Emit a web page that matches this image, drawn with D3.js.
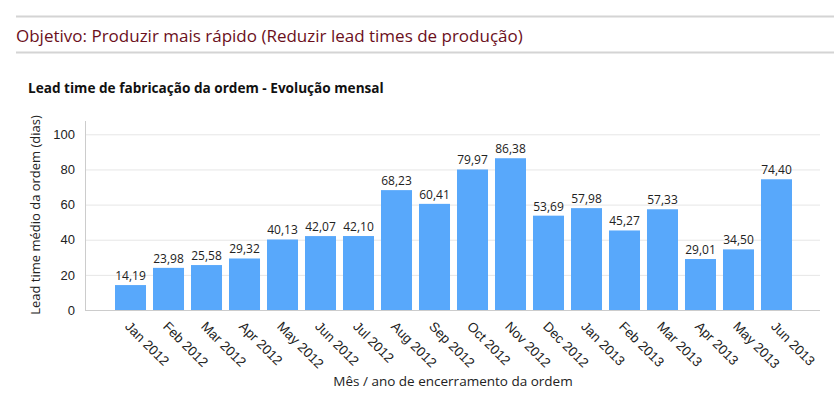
<!DOCTYPE html>
<html>
<head>
<meta charset="utf-8">
<script src="https://cdn.jsdelivr.net/npm/d3@7"></script>
<style>
    body { margin: 0; background: #fff; font-family: "Open Sans", "DejaVu Sans", sans-serif; }
    .grid line { stroke: #e6e6e6; }
    .grid .domain { display: none; }
    .axis text { fill: #222; font-size: 13px; }
    .axis .domain { stroke: #ccc; }
    .xlabels text { font-size: 13.5px; }
</style>
</head>
<body>
<div id="chart"></div>
<script>
// Months and lead time values (dias)
var months = ["Jan 2012", "Feb 2012", "Mar 2012", "Apr 2012", "May 2012", "Jun 2012",
    "Jul 2012", "Aug 2012", "Sep 2012", "Oct 2012", "Nov 2012", "Dec 2012",
    "Jan 2013", "Feb 2013", "Mar 2013", "Apr 2013", "May 2013", "Jun 2013"];
var leadTimes = [14.19, 23.98, 25.58, 29.32, 40.13, 42.07, 42.10, 68.23, 60.41,
    79.97, 86.38, 53.69, 57.98, 45.27, 57.33, 29.01, 34.50, 74.40];
var yTicks = [0, 20, 40, 60, 80, 100];

var width = 834,
    height = 397;

var svg = d3.select("#chart").append("svg")
    .attr("width", width)
    .attr("height", height);

// Header lines and title
svg.append("line").attr("x1", 16).attr("x2", width).attr("y1", 16.5).attr("y2", 16.5)
    .style("stroke", "#d4d4d4").style("stroke-width", 2);
svg.append("line").attr("x1", 16).attr("x2", width).attr("y1", 52.5).attr("y2", 52.5)
    .style("stroke", "#d4d4d4").style("stroke-width", 2);

svg.append("text")
    .attr("x", 16)
    .attr("y", 42)
    .style("fill", "#6b0f1c")
    .style("font-size", "17px")
    .text("Objetivo: Produzir mais rápido (Reduzir lead times de produção)");

svg.append("text")
    .attr("x", 28)
    .attr("y", 93)
    .style("fill", "#111")
    .style("font-size", "13.6px")
    .style("font-weight", "bold")
    .text("Lead time de fabricação da ordem - Evolução mensal");

// Scales
var x = d3.scaleBand()
    .domain(months)
    .range([111.2, 795.8])
    .paddingInner(0.184)
    .paddingOuter(0.1);

var y = d3.scaleLinear()
    .domain([0, 100])
    .range([310, 134.3]);

// Gridlines
svg.append("g")
    .attr("class", "grid")
    .attr("transform", "translate(85,0)")
    .call(d3.axisLeft(y).tickValues(yTicks).tickSize(-735).tickFormat(""));

// Y axis
var yAxis = svg.append("g")
    .attr("class", "axis")
    .attr("transform", "translate(85,0)")
    .call(d3.axisLeft(y).tickValues(yTicks).tickSize(0).tickPadding(10));
yAxis.select(".domain").attr("d", "M0.5,121V310.5");

// Bars
svg.selectAll(".bar")
    .data(leadTimes)
    .enter().append("rect")
    .attr("class", "bar")
    .attr("x", function (d, i) { return x(months[i]); })
    .attr("y", function (d) { return y(d); })
    .attr("width", x.bandwidth())
    .attr("height", function (d) { return y(0) - y(d); })
    .style("fill", "#58a8fb");

// Value labels
svg.selectAll(".label")
    .data(leadTimes)
    .enter().append("text")
    .attr("class", "label")
    .attr("x", function (d, i) { return x(months[i]) + x.bandwidth() / 2; })
    .attr("y", function (d) { return y(d) - 5; })
    .attr("text-anchor", "middle")
    .style("font-size", "12px")
    .style("fill", "#222")
    .text(function (d) { return d.toFixed(2).replace(".", ","); });

// X axis
var xAxis = svg.append("g")
    .attr("class", "axis xlabels")
    .attr("transform", "translate(0,310)")
    .call(d3.axisBottom(x).tickSize(0));
xAxis.select(".domain").attr("d", "M85,0.5H820");
xAxis.selectAll("text")
    .attr("text-anchor", "start")
    .attr("dy", "0.35em")
    .attr("transform", "translate(-3,14) rotate(45)")
    .attr("y", 0)
    .attr("x", 0);

// Axis titles
svg.append("text")
    .attr("transform", "translate(40,215) rotate(-90)")
    .attr("text-anchor", "middle")
    .style("font-size", "13px")
    .style("fill", "#222")
    .text("Lead time médio da ordem (dias)");

svg.append("text")
    .attr("x", 453)
    .attr("y", 386)
    .attr("text-anchor", "middle")
    .style("font-size", "13.5px")
    .style("fill", "#222")
    .text("Mês / ano de encerramento da ordem");
</script>
</body>
</html>
